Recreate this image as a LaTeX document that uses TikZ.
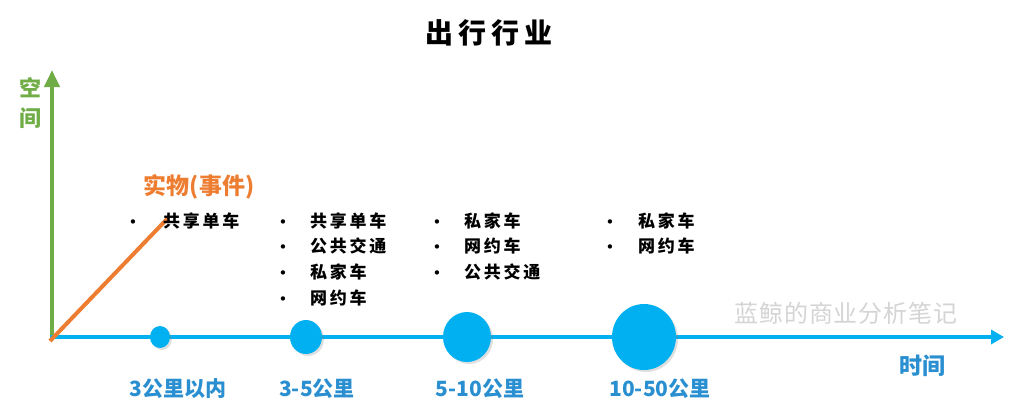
\documentclass[tikz,border=0pt]{standalone}
\usepackage{fontspec}
\setmainfont{Noto Sans CJK SC}
\newfontfamily\lsfont{Noto Sans CJK SC}[LetterSpace=16]
\newfontfamily\ttlfont{Noto Sans CJK SC}[LetterSpace=18]
\newfontfamily\wmfont{Noto Sans CJK SC}[LetterSpace=4]
\newfontfamily\dvfont{DejaVu Sans}
\usetikzlibrary{arrows.meta,shapes.geometric,shadows}
\definecolor{axgreen}{HTML}{70AD47}
\definecolor{axorange}{HTML}{ED7D31}
\definecolor{axblue}{HTML}{00B0F0}
\definecolor{lblblue}{HTML}{2A8FD0}
\definecolor{wmgray}{HTML}{D4D4D4}
\tikzset{
  itm/.style={anchor=base west, inner sep=0pt, font=\lsfont\bfseries\fontsize{17}{20}\selectfont},
  bul/.style={anchor=base, inner sep=0pt, font=\dvfont\fontsize{15}{18}\selectfont},
  dot/.style={ellipse, fill=axblue, inner sep=0pt, draw=none,
    drop shadow={opacity=0.25, shadow xshift=2pt, shadow yshift=-2pt}},
  dist/.style={font=\bfseries\fontsize{21}{24}\selectfont, text=lblblue, inner sep=0pt},
}
\begin{document}
\begin{tikzpicture}[x=1pt,y=-1pt]
\useasboundingbox (0,0) rectangle (1022,420);
% axes
\coordinate (O) at (52,339);
\coordinate (Ytop) at (52,70);
\coordinate (Ox) at (50,337);
\coordinate (Xend) at (1004,337);
\coordinate (Lend) at (168,218);
\draw[axgreen, line width=4pt, -{Triangle[width=15pt,length=17pt]}] (O) -- (Ytop);
\draw[axblue, line width=4pt, -{Triangle[width=14pt,length=13pt]}] (Ox) -- (Xend);
\draw[axorange, line width=4pt] (50,341) -- (Lend);
% title
\node[font=\ttlfont\bfseries\fontsize{28}{32}\selectfont, inner sep=0pt] (title) at (489,33) {出行行业};
% axis labels
\node[font=\bfseries\fontsize{22}{30}\selectfont, text=axgreen, align=center, inner sep=0pt] (ylab) at (30,103) {空\\间};
\node[font=\bfseries\fontsize{23}{26}\selectfont, text=axorange, inner sep=0pt] (cat) at (199,187) {实物(事件)};
\node[font=\bfseries\fontsize{23}{26}\selectfont, text=lblblue, inner sep=0pt] (xlab) at (922,366) {时间};
\node[font=\wmfont\fontsize{24}{28}\selectfont, text=wmgray, inner sep=0pt] (wm) at (846,313) {蓝鲸的商业分析笔记};
% column 1
\node[bul] (b11) at (133,227) {•};
\node[itm] (t11) at (163,227) {共享单车};
% column 2
\node[bul] (b21) at (283,227) {•};
\node[itm] (t21) at (310,227) {共享单车};
\node[bul] (b22) at (283,252) {•};
\node[itm] (t22) at (310,252) {公共交通};
\node[bul] (b23) at (283,278) {•};
\node[itm] (t23) at (310,278) {私家车};
\node[bul] (b24) at (283,304) {•};
\node[itm] (t24) at (310,304) {网约车};
% column 3
\node[bul] (b31) at (437,227) {•};
\node[itm] (t31) at (464,227) {私家车};
\node[bul] (b32) at (437,252) {•};
\node[itm] (t32) at (464,252) {网约车};
\node[bul] (b33) at (437,278) {•};
\node[itm] (t33) at (464,278) {公共交通};
% column 4
\node[bul] (b41) at (610,227) {•};
\node[itm] (t41) at (638,227) {私家车};
\node[bul] (b42) at (610,252) {•};
\node[itm] (t42) at (638,252) {网约车};
% dots
\node[dot, minimum width=20pt, minimum height=22pt] (d1) at (160,337) {};
\node[dot, minimum width=32pt, minimum height=34pt] (d2) at (306,337) {};
\node[dot, minimum width=48pt, minimum height=50pt] (d3) at (467,337) {};
\node[dot, minimum width=64pt, minimum height=66pt] (d4) at (644,337) {};
% distance labels
\node[dist] (l1) at (178,389) {3公里以内};
\node[dist] (l2) at (317,389) {3-5公里};
\node[dist] (l3) at (480,389) {5-10公里};
\node[dist] (l4) at (660,389) {10-50公里};
\end{tikzpicture}
\end{document}
